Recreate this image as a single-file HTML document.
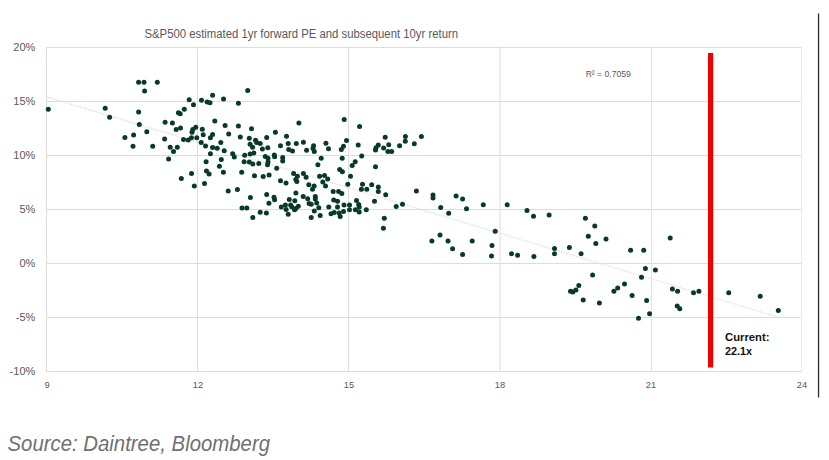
<!DOCTYPE html>
<html><head><meta charset="utf-8"><style>
html,body{margin:0;padding:0;background:#fff;width:829px;height:460px;overflow:hidden;position:relative}
</style></head><body>
<svg width="829" height="460" viewBox="0 0 829 460" style="position:absolute;left:0;top:0">
<rect x="46" y="47" width="756" height="1" fill="#dcdcdc"/>
<rect x="46" y="101" width="756" height="1" fill="#dcdcdc"/>
<rect x="46" y="155" width="756" height="1" fill="#dcdcdc"/>
<rect x="46" y="209" width="756" height="1" fill="#dcdcdc"/>
<rect x="46" y="263" width="756" height="1" fill="#dcdcdc"/>
<rect x="46" y="317" width="756" height="1" fill="#dcdcdc"/>
<rect x="46" y="371" width="756" height="1" fill="#dcdcdc"/>
<rect x="46" y="47" width="1" height="325" fill="#dcdcdc"/>
<rect x="197" y="47" width="1" height="325" fill="#dedede"/>
<rect x="348" y="47" width="1" height="325" fill="#dedede"/>
<rect x="499.5" y="47" width="1" height="325" fill="#dedede"/>
<rect x="651" y="47" width="1" height="325" fill="#e2e2e2"/>
<rect x="801" y="47" width="1" height="325" fill="#ececec"/>
<line x1="48" y1="97.3" x2="778.5" y2="317.2" stroke="#dfeacb" stroke-width="1.4" stroke-dasharray="1.6 1"/>
<circle cx="48.3" cy="109.3" r="2.5" fill="#083a28"/>
<circle cx="105.2" cy="108.3" r="2.5" fill="#083a28"/>
<circle cx="109.6" cy="117.3" r="2.5" fill="#083a28"/>
<circle cx="138.6" cy="82.2" r="2.5" fill="#083a28"/>
<circle cx="144" cy="82.2" r="2.5" fill="#083a28"/>
<circle cx="157.3" cy="82.2" r="2.5" fill="#083a28"/>
<circle cx="144.6" cy="91" r="2.5" fill="#083a28"/>
<circle cx="138.6" cy="112.1" r="2.5" fill="#083a28"/>
<circle cx="139.3" cy="124.4" r="2.5" fill="#083a28"/>
<circle cx="146.8" cy="131.7" r="2.5" fill="#083a28"/>
<circle cx="133.6" cy="134.9" r="2.5" fill="#083a28"/>
<circle cx="124.9" cy="137.5" r="2.5" fill="#083a28"/>
<circle cx="133" cy="146.2" r="2.5" fill="#083a28"/>
<circle cx="152.7" cy="146.2" r="2.5" fill="#083a28"/>
<circle cx="189.2" cy="99.8" r="2.5" fill="#083a28"/>
<circle cx="193.5" cy="104.8" r="2.5" fill="#083a28"/>
<circle cx="184.3" cy="109.3" r="2.5" fill="#083a28"/>
<circle cx="201.5" cy="100.2" r="2.5" fill="#083a28"/>
<circle cx="207.1" cy="101.9" r="2.5" fill="#083a28"/>
<circle cx="210" cy="102.8" r="2.5" fill="#083a28"/>
<circle cx="212.6" cy="95.3" r="2.5" fill="#083a28"/>
<circle cx="223.5" cy="99" r="2.5" fill="#083a28"/>
<circle cx="238.4" cy="103.3" r="2.5" fill="#083a28"/>
<circle cx="247.7" cy="90.4" r="2.5" fill="#083a28"/>
<circle cx="178.4" cy="112.7" r="2.5" fill="#083a28"/>
<circle cx="180.2" cy="113.8" r="2.5" fill="#083a28"/>
<circle cx="165.1" cy="122.3" r="2.5" fill="#083a28"/>
<circle cx="172.4" cy="123" r="2.5" fill="#083a28"/>
<circle cx="176.2" cy="129.6" r="2.5" fill="#083a28"/>
<circle cx="180.5" cy="127.9" r="2.5" fill="#083a28"/>
<circle cx="195.8" cy="127.2" r="2.5" fill="#083a28"/>
<circle cx="192.8" cy="129.6" r="2.5" fill="#083a28"/>
<circle cx="192" cy="132.3" r="2.5" fill="#083a28"/>
<circle cx="202.3" cy="129.3" r="2.5" fill="#083a28"/>
<circle cx="203.2" cy="134.8" r="2.5" fill="#083a28"/>
<circle cx="196.8" cy="137.7" r="2.5" fill="#083a28"/>
<circle cx="191.4" cy="137.7" r="2.5" fill="#083a28"/>
<circle cx="188.2" cy="139.9" r="2.5" fill="#083a28"/>
<circle cx="183.5" cy="139.6" r="2.5" fill="#083a28"/>
<circle cx="164.6" cy="139.1" r="2.5" fill="#083a28"/>
<circle cx="201.2" cy="142.6" r="2.5" fill="#083a28"/>
<circle cx="205.5" cy="145.9" r="2.5" fill="#083a28"/>
<circle cx="212.6" cy="134.5" r="2.5" fill="#083a28"/>
<circle cx="210.4" cy="137.7" r="2.5" fill="#083a28"/>
<circle cx="214.8" cy="120.9" r="2.5" fill="#083a28"/>
<circle cx="225.1" cy="125.4" r="2.5" fill="#083a28"/>
<circle cx="228.7" cy="134.1" r="2.5" fill="#083a28"/>
<circle cx="220.8" cy="142.6" r="2.5" fill="#083a28"/>
<circle cx="212.6" cy="147.5" r="2.5" fill="#083a28"/>
<circle cx="217.2" cy="148.3" r="2.5" fill="#083a28"/>
<circle cx="224.2" cy="150.8" r="2.5" fill="#083a28"/>
<circle cx="210.4" cy="153.7" r="2.5" fill="#083a28"/>
<circle cx="170.2" cy="147.3" r="2.5" fill="#083a28"/>
<circle cx="177.3" cy="147.3" r="2.5" fill="#083a28"/>
<circle cx="173.5" cy="151.6" r="2.5" fill="#083a28"/>
<circle cx="168.6" cy="158.9" r="2.5" fill="#083a28"/>
<circle cx="221.3" cy="159.5" r="2.5" fill="#083a28"/>
<circle cx="238.4" cy="126" r="2.5" fill="#083a28"/>
<circle cx="251.5" cy="128.7" r="2.5" fill="#083a28"/>
<circle cx="298.9" cy="123" r="2.5" fill="#083a28"/>
<circle cx="275.4" cy="132.2" r="2.5" fill="#083a28"/>
<circle cx="344.2" cy="119.4" r="2.5" fill="#083a28"/>
<circle cx="359.6" cy="126.6" r="2.5" fill="#083a28"/>
<circle cx="385.2" cy="137.2" r="2.5" fill="#083a28"/>
<circle cx="405.4" cy="136.4" r="2.5" fill="#083a28"/>
<circle cx="421.4" cy="136.4" r="2.5" fill="#083a28"/>
<circle cx="346.5" cy="140.4" r="2.5" fill="#083a28"/>
<circle cx="240.3" cy="137" r="2.5" fill="#083a28"/>
<circle cx="249.3" cy="138.3" r="2.5" fill="#083a28"/>
<circle cx="255.5" cy="140.2" r="2.5" fill="#083a28"/>
<circle cx="256.6" cy="142.6" r="2.5" fill="#083a28"/>
<circle cx="260.2" cy="143.5" r="2.5" fill="#083a28"/>
<circle cx="266.7" cy="137.5" r="2.5" fill="#083a28"/>
<circle cx="286.5" cy="136.2" r="2.5" fill="#083a28"/>
<circle cx="250.1" cy="144.3" r="2.5" fill="#083a28"/>
<circle cx="252.6" cy="147.3" r="2.5" fill="#083a28"/>
<circle cx="262.4" cy="149.1" r="2.5" fill="#083a28"/>
<circle cx="267.8" cy="147.8" r="2.5" fill="#083a28"/>
<circle cx="280.5" cy="145.7" r="2.5" fill="#083a28"/>
<circle cx="288.2" cy="143.5" r="2.5" fill="#083a28"/>
<circle cx="296.3" cy="143.5" r="2.5" fill="#083a28"/>
<circle cx="303.4" cy="142.2" r="2.5" fill="#083a28"/>
<circle cx="288.7" cy="149.5" r="2.5" fill="#083a28"/>
<circle cx="292.5" cy="150.9" r="2.5" fill="#083a28"/>
<circle cx="306.6" cy="150.2" r="2.5" fill="#083a28"/>
<circle cx="232.7" cy="153.8" r="2.5" fill="#083a28"/>
<circle cx="234.3" cy="157.1" r="2.5" fill="#083a28"/>
<circle cx="244.7" cy="155.2" r="2.5" fill="#083a28"/>
<circle cx="250.1" cy="154.1" r="2.5" fill="#083a28"/>
<circle cx="253.9" cy="153" r="2.5" fill="#083a28"/>
<circle cx="265.3" cy="156.5" r="2.5" fill="#083a28"/>
<circle cx="268" cy="158.2" r="2.5" fill="#083a28"/>
<circle cx="274.3" cy="154.9" r="2.5" fill="#083a28"/>
<circle cx="274.6" cy="156.7" r="2.5" fill="#083a28"/>
<circle cx="282.7" cy="157.4" r="2.5" fill="#083a28"/>
<circle cx="282.7" cy="160.9" r="2.5" fill="#083a28"/>
<circle cx="244.1" cy="161.7" r="2.5" fill="#083a28"/>
<circle cx="249.3" cy="162" r="2.5" fill="#083a28"/>
<circle cx="252.8" cy="163.9" r="2.5" fill="#083a28"/>
<circle cx="258.8" cy="163.6" r="2.5" fill="#083a28"/>
<circle cx="268" cy="162" r="2.5" fill="#083a28"/>
<circle cx="267.5" cy="164.7" r="2.5" fill="#083a28"/>
<circle cx="276.7" cy="168.3" r="2.5" fill="#083a28"/>
<circle cx="241.7" cy="172.3" r="2.5" fill="#083a28"/>
<circle cx="293.6" cy="173.4" r="2.5" fill="#083a28"/>
<circle cx="303.4" cy="173.4" r="2.5" fill="#083a28"/>
<circle cx="313.6" cy="145.7" r="2.5" fill="#083a28"/>
<circle cx="313" cy="148.4" r="2.5" fill="#083a28"/>
<circle cx="314.3" cy="151.6" r="2.5" fill="#083a28"/>
<circle cx="325.9" cy="143.3" r="2.5" fill="#083a28"/>
<circle cx="328.5" cy="148.7" r="2.5" fill="#083a28"/>
<circle cx="343.5" cy="146.2" r="2.5" fill="#083a28"/>
<circle cx="341.3" cy="149.5" r="2.5" fill="#083a28"/>
<circle cx="358.2" cy="145.1" r="2.5" fill="#083a28"/>
<circle cx="378.3" cy="145.1" r="2.5" fill="#083a28"/>
<circle cx="375.5" cy="150" r="2.5" fill="#083a28"/>
<circle cx="321.2" cy="158.2" r="2.5" fill="#083a28"/>
<circle cx="317.9" cy="164.7" r="2.5" fill="#083a28"/>
<circle cx="342.2" cy="158.2" r="2.5" fill="#083a28"/>
<circle cx="361.7" cy="156" r="2.5" fill="#083a28"/>
<circle cx="355.2" cy="161.7" r="2.5" fill="#083a28"/>
<circle cx="352.2" cy="165.4" r="2.5" fill="#083a28"/>
<circle cx="375.5" cy="166.8" r="2.5" fill="#083a28"/>
<circle cx="339.7" cy="169.6" r="2.5" fill="#083a28"/>
<circle cx="342.4" cy="171.7" r="2.5" fill="#083a28"/>
<circle cx="405.3" cy="141.3" r="2.5" fill="#083a28"/>
<circle cx="414.3" cy="143.7" r="2.5" fill="#083a28"/>
<circle cx="399.6" cy="145.7" r="2.5" fill="#083a28"/>
<circle cx="376" cy="147.8" r="2.5" fill="#083a28"/>
<circle cx="383.6" cy="148" r="2.5" fill="#083a28"/>
<circle cx="388.7" cy="144.8" r="2.5" fill="#083a28"/>
<circle cx="387.9" cy="151.6" r="2.5" fill="#083a28"/>
<circle cx="391.7" cy="151.6" r="2.5" fill="#083a28"/>
<circle cx="254.5" cy="175.8" r="2.5" fill="#083a28"/>
<circle cx="263.2" cy="176.5" r="2.5" fill="#083a28"/>
<circle cx="269.1" cy="175.1" r="2.5" fill="#083a28"/>
<circle cx="280.5" cy="180.8" r="2.5" fill="#083a28"/>
<circle cx="286" cy="183" r="2.5" fill="#083a28"/>
<circle cx="297.4" cy="176.2" r="2.5" fill="#083a28"/>
<circle cx="295.8" cy="179.4" r="2.5" fill="#083a28"/>
<circle cx="296.8" cy="181.6" r="2.5" fill="#083a28"/>
<circle cx="306.1" cy="177.2" r="2.5" fill="#083a28"/>
<circle cx="308.8" cy="184.8" r="2.5" fill="#083a28"/>
<circle cx="237.4" cy="189.5" r="2.5" fill="#083a28"/>
<circle cx="250.4" cy="197.6" r="2.5" fill="#083a28"/>
<circle cx="266.7" cy="194.6" r="2.5" fill="#083a28"/>
<circle cx="274" cy="197.3" r="2.5" fill="#083a28"/>
<circle cx="274.6" cy="199.7" r="2.5" fill="#083a28"/>
<circle cx="268.9" cy="203.3" r="2.5" fill="#083a28"/>
<circle cx="242" cy="208" r="2.5" fill="#083a28"/>
<circle cx="246.8" cy="208" r="2.5" fill="#083a28"/>
<circle cx="260.2" cy="212.3" r="2.5" fill="#083a28"/>
<circle cx="266.4" cy="213.1" r="2.5" fill="#083a28"/>
<circle cx="252.8" cy="217.5" r="2.5" fill="#083a28"/>
<circle cx="295.9" cy="193.1" r="2.5" fill="#083a28"/>
<circle cx="303.2" cy="196.6" r="2.5" fill="#083a28"/>
<circle cx="307.7" cy="198.7" r="2.5" fill="#083a28"/>
<circle cx="315.3" cy="196.6" r="2.5" fill="#083a28"/>
<circle cx="315.3" cy="199" r="2.5" fill="#083a28"/>
<circle cx="316.7" cy="202.9" r="2.5" fill="#083a28"/>
<circle cx="309.1" cy="203.6" r="2.5" fill="#083a28"/>
<circle cx="311.2" cy="204.3" r="2.5" fill="#083a28"/>
<circle cx="318.8" cy="207.7" r="2.5" fill="#083a28"/>
<circle cx="314.3" cy="210.9" r="2.5" fill="#083a28"/>
<circle cx="320.2" cy="215.4" r="2.5" fill="#083a28"/>
<circle cx="311.2" cy="217.5" r="2.5" fill="#083a28"/>
<circle cx="289.3" cy="199.4" r="2.5" fill="#083a28"/>
<circle cx="294.8" cy="200.8" r="2.5" fill="#083a28"/>
<circle cx="285.4" cy="205" r="2.5" fill="#083a28"/>
<circle cx="281.3" cy="207" r="2.5" fill="#083a28"/>
<circle cx="290.6" cy="205" r="2.5" fill="#083a28"/>
<circle cx="298.3" cy="206.3" r="2.5" fill="#083a28"/>
<circle cx="286.1" cy="209.5" r="2.5" fill="#083a28"/>
<circle cx="294.5" cy="209.8" r="2.5" fill="#083a28"/>
<circle cx="295.9" cy="208.4" r="2.5" fill="#083a28"/>
<circle cx="288.2" cy="214.3" r="2.5" fill="#083a28"/>
<circle cx="291.7" cy="206.7" r="2.5" fill="#083a28"/>
<circle cx="319.6" cy="176.2" r="2.5" fill="#083a28"/>
<circle cx="324.5" cy="175.6" r="2.5" fill="#083a28"/>
<circle cx="327.7" cy="178.9" r="2.5" fill="#083a28"/>
<circle cx="322.8" cy="182.1" r="2.5" fill="#083a28"/>
<circle cx="325.5" cy="185.9" r="2.5" fill="#083a28"/>
<circle cx="350.5" cy="176.2" r="2.5" fill="#083a28"/>
<circle cx="347.8" cy="184.3" r="2.5" fill="#083a28"/>
<circle cx="314.1" cy="185.9" r="2.5" fill="#083a28"/>
<circle cx="312.5" cy="189.2" r="2.5" fill="#083a28"/>
<circle cx="333.2" cy="191.4" r="2.5" fill="#083a28"/>
<circle cx="338.6" cy="191.4" r="2.5" fill="#083a28"/>
<circle cx="341.8" cy="193.5" r="2.5" fill="#083a28"/>
<circle cx="362.5" cy="184.3" r="2.5" fill="#083a28"/>
<circle cx="361.4" cy="189.2" r="2.5" fill="#083a28"/>
<circle cx="366.8" cy="189.2" r="2.5" fill="#083a28"/>
<circle cx="371.7" cy="184.8" r="2.5" fill="#083a28"/>
<circle cx="378.3" cy="187" r="2.5" fill="#083a28"/>
<circle cx="378.3" cy="191.4" r="2.5" fill="#083a28"/>
<circle cx="333.7" cy="200.1" r="2.5" fill="#083a28"/>
<circle cx="337.5" cy="201.2" r="2.5" fill="#083a28"/>
<circle cx="328.8" cy="207.1" r="2.5" fill="#083a28"/>
<circle cx="337.5" cy="207.1" r="2.5" fill="#083a28"/>
<circle cx="344" cy="205" r="2.5" fill="#083a28"/>
<circle cx="349.5" cy="205" r="2.5" fill="#083a28"/>
<circle cx="349.5" cy="209.8" r="2.5" fill="#083a28"/>
<circle cx="343.5" cy="211.5" r="2.5" fill="#083a28"/>
<circle cx="331" cy="213.7" r="2.5" fill="#083a28"/>
<circle cx="334.2" cy="212.6" r="2.5" fill="#083a28"/>
<circle cx="339.1" cy="213.1" r="2.5" fill="#083a28"/>
<circle cx="340.2" cy="216.4" r="2.5" fill="#083a28"/>
<circle cx="356.5" cy="200.6" r="2.5" fill="#083a28"/>
<circle cx="358.7" cy="204.4" r="2.5" fill="#083a28"/>
<circle cx="359.2" cy="207.1" r="2.5" fill="#083a28"/>
<circle cx="355.4" cy="209.8" r="2.5" fill="#083a28"/>
<circle cx="359.2" cy="212" r="2.5" fill="#083a28"/>
<circle cx="366.3" cy="209.8" r="2.5" fill="#083a28"/>
<circle cx="374.5" cy="201.2" r="2.5" fill="#083a28"/>
<circle cx="385.7" cy="194.7" r="2.5" fill="#083a28"/>
<circle cx="416.4" cy="191" r="2.5" fill="#083a28"/>
<circle cx="433" cy="195" r="2.5" fill="#083a28"/>
<circle cx="433" cy="197.9" r="2.5" fill="#083a28"/>
<circle cx="396.2" cy="206.6" r="2.5" fill="#083a28"/>
<circle cx="402.5" cy="204.2" r="2.5" fill="#083a28"/>
<circle cx="440.7" cy="207.4" r="2.5" fill="#083a28"/>
<circle cx="448.7" cy="213.2" r="2.5" fill="#083a28"/>
<circle cx="384.3" cy="218.3" r="2.5" fill="#083a28"/>
<circle cx="383.4" cy="228.2" r="2.5" fill="#083a28"/>
<circle cx="206.1" cy="161.7" r="2.5" fill="#083a28"/>
<circle cx="219.4" cy="166.3" r="2.5" fill="#083a28"/>
<circle cx="223.4" cy="172.2" r="2.5" fill="#083a28"/>
<circle cx="206.5" cy="170.9" r="2.5" fill="#083a28"/>
<circle cx="209.1" cy="174.1" r="2.5" fill="#083a28"/>
<circle cx="191.5" cy="173.5" r="2.5" fill="#083a28"/>
<circle cx="181.3" cy="178.4" r="2.5" fill="#083a28"/>
<circle cx="194.3" cy="185.9" r="2.5" fill="#083a28"/>
<circle cx="204.5" cy="183.6" r="2.5" fill="#083a28"/>
<circle cx="228.2" cy="191.1" r="2.5" fill="#083a28"/>
<circle cx="456.1" cy="196.1" r="2.5" fill="#083a28"/>
<circle cx="462.6" cy="198.9" r="2.5" fill="#083a28"/>
<circle cx="466.5" cy="208.7" r="2.5" fill="#083a28"/>
<circle cx="483.3" cy="204.8" r="2.5" fill="#083a28"/>
<circle cx="507.2" cy="204.8" r="2.5" fill="#083a28"/>
<circle cx="527" cy="210.4" r="2.5" fill="#083a28"/>
<circle cx="533.5" cy="216.3" r="2.5" fill="#083a28"/>
<circle cx="549.1" cy="215" r="2.5" fill="#083a28"/>
<circle cx="495.2" cy="231.3" r="2.5" fill="#083a28"/>
<circle cx="440" cy="235" r="2.5" fill="#083a28"/>
<circle cx="431.9" cy="240.9" r="2.5" fill="#083a28"/>
<circle cx="448" cy="240.9" r="2.5" fill="#083a28"/>
<circle cx="452.6" cy="248.7" r="2.5" fill="#083a28"/>
<circle cx="462.6" cy="254.6" r="2.5" fill="#083a28"/>
<circle cx="472.2" cy="240.9" r="2.5" fill="#083a28"/>
<circle cx="492" cy="245.4" r="2.5" fill="#083a28"/>
<circle cx="491.5" cy="255.9" r="2.5" fill="#083a28"/>
<circle cx="511.5" cy="253.7" r="2.5" fill="#083a28"/>
<circle cx="517.6" cy="255.2" r="2.5" fill="#083a28"/>
<circle cx="533.9" cy="256.5" r="2.5" fill="#083a28"/>
<circle cx="554.5" cy="248.6" r="2.5" fill="#083a28"/>
<circle cx="554.5" cy="253.8" r="2.5" fill="#083a28"/>
<circle cx="585.4" cy="218.2" r="2.5" fill="#083a28"/>
<circle cx="594.8" cy="226" r="2.5" fill="#083a28"/>
<circle cx="588.3" cy="236.2" r="2.5" fill="#083a28"/>
<circle cx="595.8" cy="243.4" r="2.5" fill="#083a28"/>
<circle cx="606" cy="239.1" r="2.5" fill="#083a28"/>
<circle cx="569.4" cy="247.4" r="2.5" fill="#083a28"/>
<circle cx="581.1" cy="253.8" r="2.5" fill="#083a28"/>
<circle cx="630.6" cy="250.3" r="2.5" fill="#083a28"/>
<circle cx="643.7" cy="250.3" r="2.5" fill="#083a28"/>
<circle cx="645.4" cy="268.4" r="2.5" fill="#083a28"/>
<circle cx="655.4" cy="270.1" r="2.5" fill="#083a28"/>
<circle cx="592.6" cy="275.1" r="2.5" fill="#083a28"/>
<circle cx="641.5" cy="277.2" r="2.5" fill="#083a28"/>
<circle cx="578.8" cy="285.4" r="2.5" fill="#083a28"/>
<circle cx="575.9" cy="290" r="2.5" fill="#083a28"/>
<circle cx="570.5" cy="291.2" r="2.5" fill="#083a28"/>
<circle cx="572.8" cy="291.9" r="2.5" fill="#083a28"/>
<circle cx="583.2" cy="300" r="2.5" fill="#083a28"/>
<circle cx="599.4" cy="302.9" r="2.5" fill="#083a28"/>
<circle cx="613.9" cy="291.2" r="2.5" fill="#083a28"/>
<circle cx="617.7" cy="288.1" r="2.5" fill="#083a28"/>
<circle cx="624.5" cy="284" r="2.5" fill="#083a28"/>
<circle cx="632.1" cy="295.4" r="2.5" fill="#083a28"/>
<circle cx="646.6" cy="300.6" r="2.5" fill="#083a28"/>
<circle cx="649.6" cy="313.7" r="2.5" fill="#083a28"/>
<circle cx="638.5" cy="318.3" r="2.5" fill="#083a28"/>
<circle cx="670.2" cy="238" r="2.5" fill="#083a28"/>
<circle cx="672.4" cy="289.1" r="2.5" fill="#083a28"/>
<circle cx="677.6" cy="291.3" r="2.5" fill="#083a28"/>
<circle cx="693.5" cy="292.8" r="2.5" fill="#083a28"/>
<circle cx="698.9" cy="291.3" r="2.5" fill="#083a28"/>
<circle cx="677.2" cy="305.9" r="2.5" fill="#083a28"/>
<circle cx="679.8" cy="308.7" r="2.5" fill="#083a28"/>
<circle cx="728.7" cy="292.8" r="2.5" fill="#083a28"/>
<circle cx="760.2" cy="296.3" r="2.5" fill="#083a28"/>
<circle cx="778.3" cy="310.4" r="2.5" fill="#083a28"/>
<rect x="708" y="53" width="5.2" height="314.5" fill="#ee0000"/>
<rect x="817.9" y="13.5" width="1.3" height="384" fill="#2b2b2b"/>
<text x="144.5" y="38" font-family="'Liberation Sans', sans-serif" font-size="12.3" fill="#595959" textLength="313.5" lengthAdjust="spacingAndGlyphs">S&amp;P500 estimated 1yr forward PE and subsequent 10yr return</text>
<text x="35.3" y="50.7" font-family="'Liberation Sans', sans-serif" font-size="11" fill="#595959" text-anchor="end">20%</text>
<text x="35.3" y="104.7" font-family="'Liberation Sans', sans-serif" font-size="11" fill="#595959" text-anchor="end">15%</text>
<text x="35.3" y="158.7" font-family="'Liberation Sans', sans-serif" font-size="11" fill="#595959" text-anchor="end">10%</text>
<text x="35.3" y="212.7" font-family="'Liberation Sans', sans-serif" font-size="11" fill="#595959" text-anchor="end">5%</text>
<text x="35.3" y="266.7" font-family="'Liberation Sans', sans-serif" font-size="11" fill="#595959" text-anchor="end">0%</text>
<text x="35.3" y="320.7" font-family="'Liberation Sans', sans-serif" font-size="11" fill="#595959" text-anchor="end">-5%</text>
<text x="35.3" y="374.7" font-family="'Liberation Sans', sans-serif" font-size="11" fill="#595959" text-anchor="end">-10%</text>
<text x="47.0" y="388.2" font-family="'Liberation Sans', sans-serif" font-size="9.3" fill="#595959" text-anchor="middle">9</text>
<text x="198.0" y="388.2" font-family="'Liberation Sans', sans-serif" font-size="9.3" fill="#595959" text-anchor="middle">12</text>
<text x="349.0" y="388.2" font-family="'Liberation Sans', sans-serif" font-size="9.3" fill="#595959" text-anchor="middle">15</text>
<text x="500.0" y="388.2" font-family="'Liberation Sans', sans-serif" font-size="9.3" fill="#595959" text-anchor="middle">18</text>
<text x="651.0" y="388.2" font-family="'Liberation Sans', sans-serif" font-size="9.3" fill="#595959" text-anchor="middle">21</text>
<text x="802.0" y="388.2" font-family="'Liberation Sans', sans-serif" font-size="9.3" fill="#595959" text-anchor="middle">24</text>
<text x="585.7" y="77.2" font-family="'Liberation Sans', sans-serif" font-size="9.5" fill="#595959" textLength="45" lengthAdjust="spacingAndGlyphs">R² = 0.7059</text>
<text x="725" y="341.2" font-family="'Liberation Sans', sans-serif" font-size="10.8" font-weight="bold" fill="#111" textLength="44.4" lengthAdjust="spacingAndGlyphs">Current:</text>
<text x="725" y="354.9" font-family="'Liberation Sans', sans-serif" font-size="10.8" font-weight="bold" fill="#111" textLength="27" lengthAdjust="spacingAndGlyphs">22.1x</text>
<text x="7.5" y="451" font-family="'Liberation Sans', sans-serif" font-size="22.3" font-style="italic" fill="#707070" textLength="262.5" lengthAdjust="spacingAndGlyphs">Source: Daintree, Bloomberg</text>
</svg>
</body></html>
